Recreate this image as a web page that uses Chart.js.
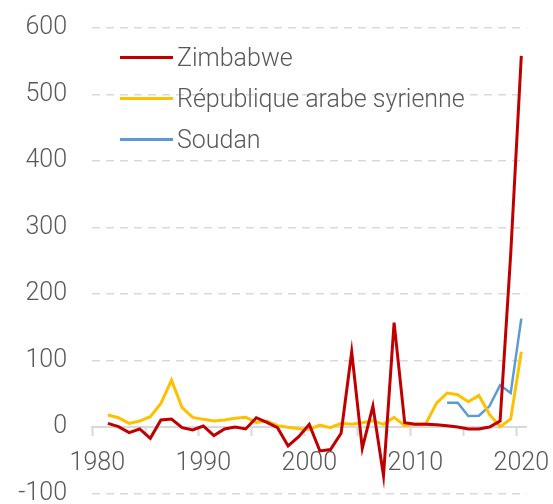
<!DOCTYPE html>
<html>
<head>
<meta charset="utf-8">
<script src="https://cdn.jsdelivr.net/npm/chart.js@4/dist/chart.umd.min.js"></script>
<style>
  body { margin: 0; background: #fff; }
  #wrap { position: relative; width: 553px; height: 504px; }
  #legend { position: absolute; left: 120px; top: 0; font-family: Roboto, "Liberation Sans", sans-serif; font-weight: 300; font-size: 25px; color: #595959; }
  .item { position: absolute; left: 0; white-space: nowrap; height: 30px; display: flex; align-items: center; }
  .swatch { width: 53px; height: 3px; margin-right: 4px; }
</style>
</head>
<body>
<div id="wrap">
  <canvas id="chart"></canvas>
  <div id="legend"></div>
</div>
<script>
// ==========================
// DATA
// ==========================

const years = [];
for (let y = 1980; y <= 2020; y++) years.push(String(y));

const zimbabwe = [null,
  5.5, 0.5, -8.5, -3, -17, 10.5, 12, -1, -4.5, 1.5,
  -13, -3, 0, -3, 14, 7, -1, -28.5, -14.5, 4,
  -36, -34, -9.5, 113, -32, 31.5, -73, 157, 6.5, 4,
  4, 3.5, 2, 0, -3, -3, 0, 9, 260, 558];

const syrie = [null,
  18, 14, 5.5, 9, 15.5, 35.5, 70.5, 29, 14.5, 11.5,
  9, 10.5, 13, 14.5, 7, 9, 2, -0.5, -2.5, -3.5,
  3, -1, 5.5, 4, 6.5, 9.5, 4, 14.5, 2, 4,
  5, 36, 51, 48.5, 38, 47.5, 19, 0.5, 12, 113];

const soudan = [null,
  null, null, null, null, null, null, null, null, null, null,
  null, null, null, null, null, null, null, null, null, null,
  null, null, null, null, null, null, null, null, null, null,
  null, null, 36.5, 36.5, 16.5, 17, 31.5, 63, 51, 163];

const seriesNames = ["Zimbabwe", "République arabe syrienne", "Soudan"];
const seriesColors = ["#C00000", "#FFC000", "#5B9BD5"];

const yTicks = [-100, 0, 100, 200, 300, 400, 500, 600];

// ==========================
// HTML LEGEND
// ==========================

const htmlLegend = {
  id: "htmlLegend",
  afterUpdate(chart){
    const box = document.getElementById("legend");
    box.innerHTML = "";
    chart.data.datasets.forEach((ds, i) => {
      const row = document.createElement("div");
      row.className = "item";
      row.style.top = (57.5 + i * 41 - 15) + "px";
      const sw = document.createElement("span");
      sw.className = "swatch";
      sw.style.background = ds.borderColor;
      const txt = document.createElement("span");
      txt.textContent = ds.label;
      row.appendChild(sw);
      row.appendChild(txt);
      box.appendChild(row);
    });
  }
};

// ==========================
// CHART
// ==========================

const font = { family: "Roboto, 'Liberation Sans', sans-serif", size: 25, weight: 300 };

new Chart(document.getElementById("chart"), {
  type: "line",
  data: {
    labels: years,
    datasets: [
      { label: seriesNames[0], data: zimbabwe, borderColor: seriesColors[0], borderWidth: 3 },
      { label: seriesNames[1], data: syrie, borderColor: seriesColors[1], borderWidth: 3 },
      { label: seriesNames[2], data: soudan, borderColor: seriesColors[2], borderWidth: 2.5 }
    ]
  },
  options: {
    responsive: true,
    maintainAspectRatio: false,
    animation: false,
    elements: { point: { radius: 0 }, line: { tension: 0 } },
    layout: { padding: { top: 28, right: 26.4, bottom: 10.5, left: 0 } },
    plugins: { legend: { display: false }, tooltip: { enabled: false } },
    scales: {
      x: {
        type: "category",
        position: { y: 0 },
        offset: true,
        grid: {
          offset: true,
          drawOnChartArea: false,
          drawTicks: true,
          tickLength: 8,
          tickWidth: 2,
          tickColor: ctx => (ctx.index !== undefined && ctx.index % 5 === 0) ? "#d9d9d9" : "rgba(0,0,0,0)"
        },
        border: { color: "#d9d9d9", width: 2 },
        ticks: {
          autoSkip: false,
          maxRotation: 0,
          padding: 14,
          color: "#595959",
          font: font,
          callback: (v, i) => Number(years[i]) % 10 === 0 ? years[i] : ""
        },
        afterFit(s){ s.paddingLeft = 0; s.paddingRight = 0; }
      },
      y: {
        min: -100,
        max: 600,
        afterBuildTicks(s){ s.ticks = yTicks.map(v => ({ value: v })); },
        grid: { color: "#d9d9d9", lineWidth: 1.5, drawTicks: false },
        border: { display: false, dash: [8, 6] },
        ticks: { padding: 25, color: "#595959", font: font },
        afterFit(s){ s.width = 92; s.paddingTop = 0; s.paddingBottom = 0; }
      }
    }
  },
  plugins: [htmlLegend]
});
</script>
</body>
</html>
